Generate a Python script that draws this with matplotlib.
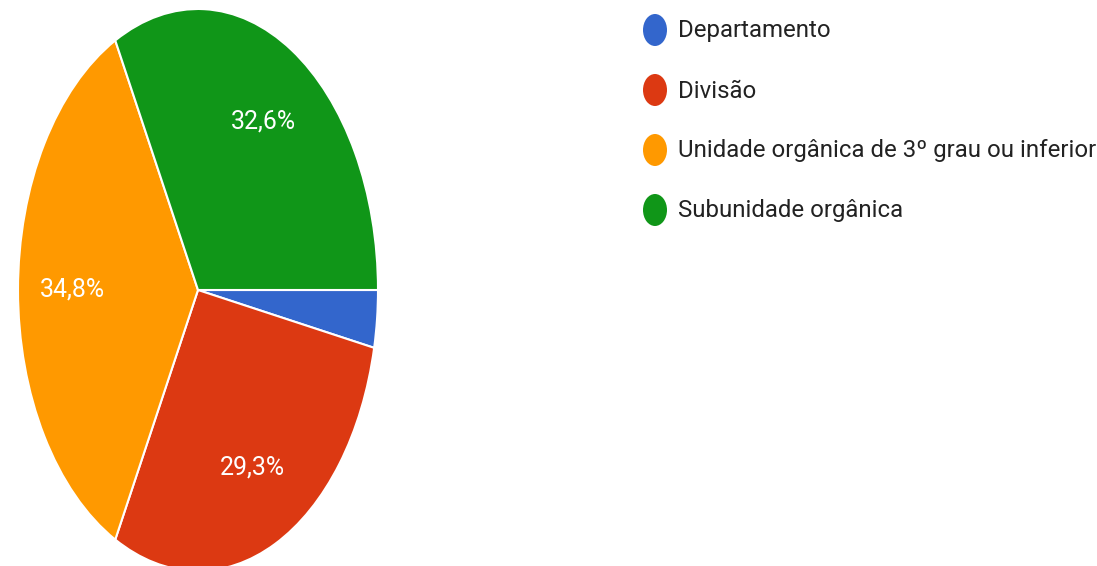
import matplotlib
matplotlib.use("Agg")
import matplotlib.pyplot as plt
from matplotlib.patches import Ellipse
from matplotlib import font_manager

categories = ["Departamento", "Divisão", "Unidade orgânica de 3º grau ou inferior", "Subunidade orgânica"]
values = [3.3, 29.3, 34.8, 32.6]
colors = ["#3366cc", "#dc3912", "#ff9900", "#109618"]

W, H = 1097, 566
fig = plt.figure(figsize=(W / 100, H / 100), dpi=100)

names = {f.name for f in font_manager.fontManager.ttflist}
fam = "Liberation Sans Narrow" if "Liberation Sans Narrow" in names else "Roboto"

# pie axes (ellipse: horizontally squeezed)
cx, cy, rx, ry = 198, 290, 180, 281
ax = fig.add_axes([(cx - rx) / W, (H - cy - ry) / H, 2 * rx / W, 2 * ry / H])
wedges, texts, autotexts = ax.pie(
    values, colors=colors, startangle=0, counterclock=False,
    autopct=lambda p: f"{p:.1f}%".replace(".", ",") if p > 5 else "",
    pctdistance=0.7, wedgeprops=dict(edgecolor="white", linewidth=1.5),
    textprops=dict(color="white", family=fam, fontsize=18),
)
ax.set_xlim(-1, 1)
ax.set_ylim(-1, 1)
ax.set_aspect("auto")
ax.axis("off")

fig.canvas.draw()
renderer = fig.canvas.get_renderer()

# fit pct label size to target width
for t in autotexts:
    if t.get_text():
        w = t.get_window_extent(renderer).width
        t.set_fontsize(18 * 65 / w)

# legend drawn manually
x_marker, x_text = 655, 678
y0, dy = 30, 60
txts = []
for i, (lab, col) in enumerate(zip(categories, colors)):
    y = y0 + i * dy
    e = Ellipse(((x_marker) / W, 1 - y / H), 24 / W, 32 / H,
                transform=fig.transFigure, facecolor=col, edgecolor="none")
    fig.add_artist(e)
    t = fig.text(x_text / W, 1 - (y + 1) / H, lab, family=fam, fontsize=20,
                 color="#222222", va="center", ha="left")
    txts.append(t)

fig.canvas.draw()
w = txts[2].get_window_extent(renderer).width
fs = 20 * 417 / w
for t in txts:
    t.set_fontsize(fs)

fig.savefig("out.png", dpi=100)
